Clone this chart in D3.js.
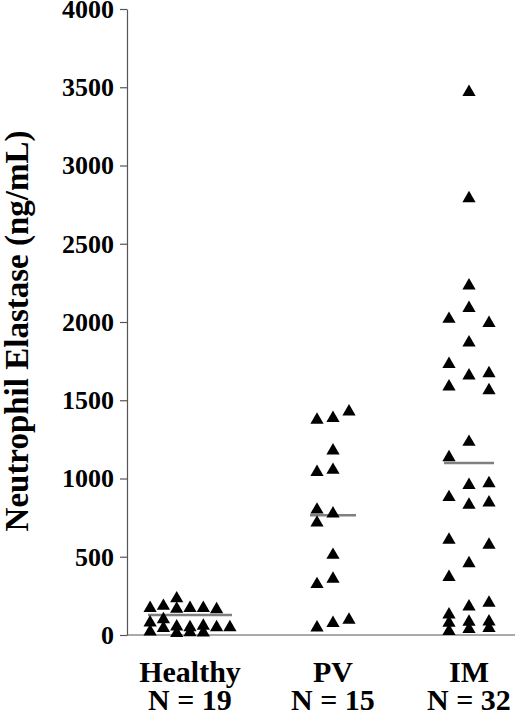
<!DOCTYPE html>
<html>
<head>
<meta charset="utf-8">
<script src="https://cdn.jsdelivr.net/npm/d3@7"></script>
<style>
  html, body { margin: 0; padding: 0; background: #fff; }
  svg { display: block; }
</style>
</head>
<body>
<script>
// ---- Data ----
const categories = ["Healthy", "PV", "IM"];
const nLabels = ["N = 19", "N = 15", "N = 32"];
const yTicks = [0, 500, 1000, 1500, 2000, 2500, 3000, 3500, 4000];

// jitter slot (column index within group) and value (ng/mL)
const healthySlots  = [-3, -2, -1, -1, 0, 1, 2, -3, -3, -2, -2, -1, -1, 0, 0, 1, 1, 2, 3];
const healthyValues = [172, 185, 233, 166, 172, 172, 163, 79, 21, 100, 43, 53, 11, 49, 16, 58, 15, 49, 49];

const pvSlots  = [-1, 0, 1, 0, -1, 0, -1, 0, -1, 0, -1, 0, -1, 0, 1];
const pvValues = [1374, 1385, 1427, 1178, 1040, 1054, 800, 775, 717, 511, 324, 358, 47, 75, 96];

const imSlots  = [0, 0, 0, 0, -1, 1, 0, -1, 0, 1, -1, 1, 0, -1, 0, 1, -1, 0, 1, -1, 1, 0, -1, 0, 1, -1, -1, -1, 0, 0, 1, 1];
const imValues = [3468, 2790, 2232, 2088, 2019, 1992, 1868, 1730, 1657, 1672, 1587, 1563, 1233, 1135, 957, 969, 880, 831, 845, 607, 575, 458, 369, 181, 205, 130, 77, 24, 83, 38, 85, 43];

const meanValues = [128, 765, 1099];

// ---- Layout ----
const W = 520, H = 716;
const axisX = 127, axisRight = 515, yTop = 9, yBottom = 635;
const serif = "'Liberation Serif', 'Times New Roman', serif";

const svg = d3.select("body").append("svg").attr("width", W).attr("height", H);

const y = d3.scaleLinear().domain([0, 4000]).range([yBottom, yTop]);
const x = d3.scalePoint().domain(categories).range([190, 470]);

const slotSpacing = { Healthy: 13.3, PV: 16, IM: 20 };
const meanHalfWidth = { Healthy: 42, PV: 23, IM: 25 };
const groupShift = { Healthy: 0, PV: 3, IM: -1 };

const groups = [
  { cat: "Healthy", slots: healthySlots, values: healthyValues },
  { cat: "PV", slots: pvSlots, values: pvValues },
  { cat: "IM", slots: imSlots, values: imValues }
];

const points = [];
groups.forEach(g => g.values.forEach((v, i) => points.push({ cat: g.cat, slot: g.slots[i], value: v })));

const cx = d => x(d.cat) + groupShift[d.cat] + d.slot * slotSpacing[d.cat];

// y axis
const yAxis = d3.axisLeft(y).tickValues(yTicks).tickFormat(d3.format("d"))
  .tickSize(7).tickSizeOuter(0).tickPadding(6);
const gy = svg.append("g").attr("transform", `translate(${axisX},0)`).call(yAxis);
gy.select(".domain").attr("stroke", "#555").attr("stroke-width", 1.2);
gy.selectAll(".tick line").attr("stroke", "#555").attr("stroke-width", 1.2);
gy.selectAll(".tick text")
  .attr("font-family", serif).attr("font-weight", "bold").attr("font-size", 26)
  .attr("fill", "#000");

// x axis line
svg.append("line")
  .attr("x1", axisX).attr("x2", axisRight)
  .attr("y1", y(0)).attr("y2", y(0))
  .attr("stroke", "#555").attr("stroke-width", 1.2);

// mean lines
svg.append("g").selectAll("line").data(categories).join("line")
  .attr("x1", c => x(c) + groupShift[c] - meanHalfWidth[c])
  .attr("x2", c => x(c) + groupShift[c] + meanHalfWidth[c])
  .attr("y1", (c, i) => y(meanValues[i]))
  .attr("y2", (c, i) => y(meanValues[i]))
  .attr("stroke", "#808080").attr("stroke-width", 2.5);

// triangles
const tri = d3.symbol().type(d3.symbolTriangle).size(76);
svg.append("g").selectAll("path").data(points).join("path")
  .attr("d", tri)
  .attr("transform", d => `translate(${cx(d)},${y(d.value)})`)
  .attr("fill", "#000");

// category labels
const labels = svg.append("g")
  .attr("font-family", serif).attr("font-weight", "bold").attr("font-size", 30)
  .attr("text-anchor", "middle").attr("fill", "#000");
labels.selectAll("text.cat").data(categories).join("text").attr("class", "cat")
  .attr("x", c => x(c) + groupShift[c]).attr("y", 682).text(c => c);
labels.selectAll("text.n").data(nLabels).join("text").attr("class", "n")
  .attr("x", (t, i) => x(categories[i]) + groupShift[categories[i]]).attr("y", 710).text(t => t);

// y title
svg.append("text")
  .attr("transform", "translate(28,331) rotate(-90)")
  .attr("text-anchor", "middle")
  .attr("font-family", serif).attr("font-weight", "bold").attr("font-size", 33)
  .attr("fill", "#000")
  .text("Neutrophil Elastase (ng/mL)");
</script>
</body>
</html>
